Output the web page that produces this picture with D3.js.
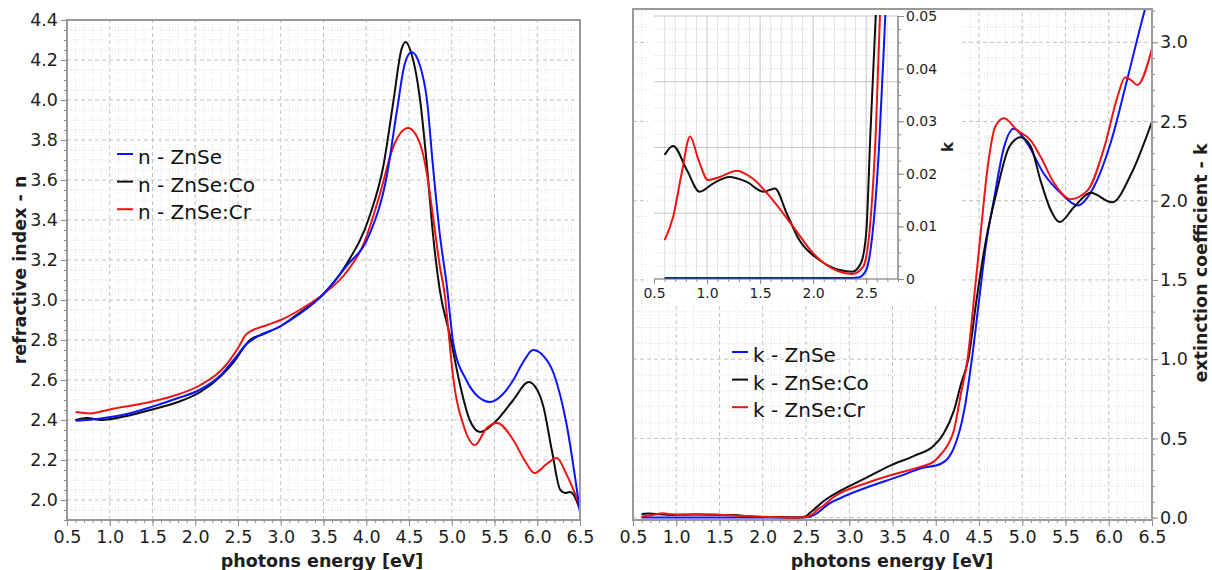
<!DOCTYPE html>
<html>
<head>
<meta charset="utf-8">
<script src="https://cdn.jsdelivr.net/npm/d3@7"></script>
<style>
  body { margin: 0; background: #fff; }
  svg { display: block; font-family: "DejaVu Sans", Verdana, sans-serif; }
</style>
</head>
<body>
<svg id="chart" width="1212" height="570"></svg>
<script>
// refractive index n vs photon energy [eV]
const nZnSe = [[0.6,2.396],[0.9,2.408],[1.2,2.43],[1.5,2.467],[1.8,2.51],[2.05,2.55],[2.3,2.625],[2.45,2.70],[2.6,2.78],[2.7,2.81],[3.0,2.87],[3.22,2.93],[3.5,3.03],[3.77,3.17],[4.04,3.33],[4.24,3.62],[4.36,3.95],[4.45,4.18],[4.53,4.24],[4.63,4.17],[4.71,4.00],[4.78,3.67],[4.86,3.33],[4.94,3.08],[5.02,2.78],[5.17,2.60],[5.3,2.52],[5.45,2.49],[5.6,2.53],[5.72,2.60],[5.85,2.70],[5.95,2.75],[6.05,2.73],[6.19,2.635],[6.34,2.385],[6.5,1.94]];
const nZnSeCo = [[0.6,2.40],[0.73,2.41],[0.9,2.40],[1.2,2.42],[1.47,2.45],[1.8,2.49],[2.06,2.54],[2.3,2.62],[2.45,2.69],[2.64,2.80],[2.8,2.83],[3.0,2.87],[3.2,2.93],[3.5,3.03],[3.77,3.18],[4.04,3.42],[4.2,3.67],[4.32,4.00],[4.41,4.25],[4.46,4.29],[4.53,4.23],[4.63,4.00],[4.71,3.67],[4.78,3.33],[4.86,3.05],[4.98,2.82],[5.10,2.57],[5.21,2.40],[5.33,2.34],[5.43,2.36],[5.53,2.40],[5.72,2.50],[5.90,2.59],[6.0,2.55],[6.07,2.47],[6.17,2.25],[6.27,2.05],[6.33,2.035],[6.38,2.04],[6.42,2.03],[6.5,1.95]];
const nZnSeCr = [[0.6,2.44],[0.77,2.433],[1.0,2.453],[1.47,2.49],[1.74,2.52],[2.06,2.575],[2.37,2.68],[2.5,2.76],[2.6,2.83],[2.84,2.875],[3.0,2.90],[3.22,2.95],[3.5,3.03],[3.77,3.14],[3.97,3.28],[4.16,3.53],[4.32,3.77],[4.49,3.86],[4.63,3.78],[4.71,3.63],[4.78,3.42],[4.86,3.17],[4.92,3.02],[4.96,2.85],[5.02,2.60],[5.14,2.37],[5.27,2.275],[5.41,2.36],[5.53,2.385],[5.72,2.30],[5.85,2.20],[5.97,2.135],[6.11,2.18],[6.23,2.21],[6.34,2.13],[6.5,1.97]];

// extinction coefficient k vs photon energy [eV]
const kZnSe = [[0.6,0.0002],[1.0,0.0002],[1.5,0.0002],[2.0,0.0002],[2.3,0.0002],[2.43,0.0003],[2.5,0.0017],[2.56,0.0087],[2.62,0.0245],[2.68,0.05],[2.75,0.082],[2.9,0.124],[3.2,0.19],[3.6,0.265],[3.82,0.31],[4.06,0.34],[4.15,0.38],[4.21,0.44],[4.33,0.68],[4.42,1.01],[4.5,1.37],[4.58,1.72],[4.67,2.0],[4.79,2.34],[4.9,2.455],[5.06,2.36],[5.25,2.17],[5.45,2.045],[5.64,1.97],[5.83,2.09],[6.03,2.38],[6.22,2.78],[6.41,3.19],[6.5,3.36]];
const kZnSeCo = [[0.6,0.0236],[0.68,0.0253],[0.81,0.0207],[0.93,0.0166],[1.06,0.0182],[1.21,0.0194],[1.37,0.0185],[1.53,0.0166],[1.64,0.0172],[1.75,0.0125],[1.87,0.0074],[2.06,0.0036],[2.25,0.0017],[2.37,0.0014],[2.45,0.003],[2.5,0.0087],[2.54,0.0277],[2.59,0.05],[2.66,0.085],[2.74,0.118],[2.9,0.17],[3.21,0.255],[3.48,0.33],[3.75,0.39],[3.98,0.455],[4.09,0.53],[4.21,0.675],[4.29,0.84],[4.38,1.01],[4.47,1.37],[4.58,1.75],[4.71,2.07],[4.85,2.34],[4.98,2.40],[5.1,2.34],[5.21,2.13],[5.33,1.94],[5.43,1.865],[5.6,1.96],[5.79,2.05],[6.04,1.99],[6.26,2.17],[6.5,2.50]];
const kZnSeCr = [[0.6,0.0074],[0.68,0.0118],[0.76,0.020],[0.84,0.0271],[0.92,0.0226],[1.01,0.0188],[1.12,0.0194],[1.28,0.0206],[1.43,0.0191],[1.62,0.015],[1.81,0.010],[2.0,0.0049],[2.18,0.002],[2.37,0.00095],[2.47,0.0023],[2.53,0.0087],[2.59,0.0277],[2.63,0.05],[2.7,0.075],[2.82,0.13],[3.21,0.22],[3.59,0.285],[3.82,0.32],[3.98,0.355],[4.06,0.40],[4.13,0.45],[4.21,0.55],[4.29,0.78],[4.37,1.01],[4.44,1.37],[4.52,1.80],[4.6,2.21],[4.69,2.47],[4.79,2.52],[4.94,2.445],[5.1,2.38],[5.21,2.28],[5.37,2.11],[5.56,2.01],[5.755,2.065],[5.95,2.34],[6.1,2.655],[6.19,2.78],[6.26,2.76],[6.33,2.73],[6.5,2.96]];

const seriesColors = ['#0a14ff', '#0d0d0d', '#f01414'];
const legendN = ['n - ZnSe', 'n - ZnSe:Co', 'n - ZnSe:Cr'];
const legendK = ['k - ZnSe', 'k - ZnSe:Co', 'k - ZnSe:Cr'];
const energyTicks = [0.5, 1.0, 1.5, 2.0, 2.5, 3.0, 3.5, 4.0, 4.5, 5.0, 5.5, 6.0, 6.5];
const nTicks = [2.0, 2.2, 2.4, 2.6, 2.8, 3.0, 3.2, 3.4, 3.6, 3.8, 4.0, 4.2, 4.4];
const kTicks = [0.0, 0.5, 1.0, 1.5, 2.0, 2.5, 3.0];
const insetEnergyTicks = [0.5, 1.0, 1.5, 2.0, 2.5];
const insetKTicks = [0, 0.01, 0.02, 0.03, 0.04, 0.05];

const FONT = '"DejaVu Sans", Verdana, sans-serif';
const svg = d3.select('#chart');

function stepValues(lo, hi, step) {
  return d3.range(Math.round((hi - lo) / step) + 1).map(i => +(lo + i * step).toFixed(6));
}
function onStep(v, step) {
  return Math.abs(v / step - Math.round(v / step)) < 1e-6;
}

function addGrid(g, x, y, xVals, xMajor, yVals, yMajor, style) {
  const [x0, x1] = x.range();
  const [y0, y1] = y.range();
  g.selectAll(null).data(xVals).enter().append('line')
    .attr('x1', d => x(d)).attr('x2', d => x(d))
    .attr('y1', y0).attr('y2', y1)
    .each(function (d) { style(d3.select(this), onStep(d, xMajor), 'v'); });
  g.selectAll(null).data(yVals).enter().append('line')
    .attr('y1', d => y(d)).attr('y2', d => y(d))
    .attr('x1', x0).attr('x2', x1)
    .each(function (d) { style(d3.select(this), onStep(d, yMajor), 'h'); });
}

function mainGridStyle(sel, major) {
  if (major) sel.attr('stroke', '#c2c2c2').attr('stroke-dasharray', '4,3');
  else sel.attr('stroke', '#dedede').attr('stroke-dasharray', '1,2');
  sel.attr('stroke-width', 1);
}
function insetGridStyle(sel, major, dir) {
  if (major) sel.attr('stroke', '#c6c6c6');
  else if (dir === 'v') sel.attr('stroke', '#e2e2e2');
  else sel.attr('stroke', '#d4d4d4').attr('stroke-dasharray', '1,2');
  sel.attr('stroke-width', 1);
}

function styleAxis(sel, size) {
  sel.attr('font-family', FONT).attr('font-size', size);
  sel.select('.domain').remove();
  sel.selectAll('.tick line').attr('stroke', '#8c8c8c');
  sel.selectAll('.tick text').attr('fill', '#1e1e1e');
}

function drawSeries(g, x, y, data, color) {
  g.append('path').datum(data)
    .attr('fill', 'none')
    .attr('stroke', color)
    .attr('stroke-width', 2)
    .attr('d', d3.line().x(d => x(d[0])).y(d => y(d[1])).curve(d3.curveMonotoneX));
}

function addClip(id, x, y, w, h) {
  svg.append('clipPath').attr('id', id).append('rect')
    .attr('x', x).attr('y', y).attr('width', w).attr('height', h);
}

function addLegend(labels, lx, ly, gap) {
  const g = svg.append('g').attr('font-family', FONT).attr('font-size', 20);
  labels.forEach((label, i) => {
    const cy = ly + i * gap;
    g.append('line').attr('x1', lx).attr('x2', lx + 16).attr('y1', cy).attr('y2', cy)
      .attr('stroke', seriesColors[i]).attr('stroke-width', 2);
    g.append('text').attr('x', lx + 21).attr('y', cy + 10).attr('fill', '#111').text(label);
  });
}

const fmt1 = d3.format('.1f');

// ---------- left panel: refractive index ----------
const xN = d3.scaleLinear().domain([0.5, 6.5]).range([67, 580]);
const yN = d3.scaleLinear().domain([1.9, 4.4]).range([520, 20]);

addGrid(svg.append('g'), xN, yN,
  stepValues(0.6, 6.4, 0.1), 0.5, stepValues(1.95, 4.35, 0.05), 0.2, mainGridStyle);

addClip('clipN', 67, 20, 513, 500);
const gN = svg.append('g').attr('clip-path', 'url(#clipN)');
drawSeries(gN, xN, yN, nZnSeCo, seriesColors[1]);
drawSeries(gN, xN, yN, nZnSeCr, seriesColors[2]);
drawSeries(gN, xN, yN, nZnSe, seriesColors[0]);

svg.append('rect').attr('x', 67).attr('y', 20).attr('width', 513).attr('height', 500)
  .attr('fill', 'none').attr('stroke', '#9a9a9a').attr('stroke-width', 2);

svg.append('g').attr('transform', 'translate(67,0)')
  .call(d3.axisLeft(yN).tickValues(stepValues(1.9, 4.4, 0.05)).tickSize(3).tickFormat(''))
  .call(styleAxis, 17.5);
svg.append('g').attr('transform', 'translate(67,0)')
  .call(d3.axisLeft(yN).tickValues(nTicks).tickSize(6).tickPadding(3).tickFormat(fmt1))
  .call(styleAxis, 17.5);
svg.append('g').attr('transform', 'translate(0,520)')
  .call(d3.axisBottom(xN).tickValues(stepValues(0.5, 6.5, 0.1)).tickSize(3).tickFormat(''))
  .call(styleAxis, 17.5);
svg.append('g').attr('transform', 'translate(0,520)')
  .call(d3.axisBottom(xN).tickValues(energyTicks).tickSize(6).tickPadding(5).tickFormat(fmt1))
  .call(styleAxis, 17.5);

svg.append('text').attr('transform', 'translate(26,270) rotate(-90)')
  .attr('text-anchor', 'middle').attr('font-family', FONT).attr('font-size', 17.5)
  .attr('font-weight', 'bold').attr('fill', '#1e1e1e').text('refractive index - n');
svg.append('text').attr('x', 322).attr('y', 567)
  .attr('text-anchor', 'middle').attr('font-family', FONT).attr('font-size', 17.5)
  .attr('font-weight', 'bold').attr('fill', '#1e1e1e').text('photons energy [eV]');

addLegend(legendN, 117, 154, 27.6);

// ---------- right panel: extinction coefficient ----------
const xK = d3.scaleLinear().domain([0.5, 6.5]).range([633, 1152]);
const yK = d3.scaleLinear().domain([-0.015, 3.21]).range([520, 9]);

addGrid(svg.append('g'), xK, yK,
  stepValues(0.6, 6.4, 0.1), 0.5, stepValues(0, 3.2, 0.1), 0.5, mainGridStyle);

addClip('clipK', 633, 9, 519, 511);
const gK = svg.append('g').attr('clip-path', 'url(#clipK)');
drawSeries(gK, xK, yK, kZnSe, seriesColors[0]);
drawSeries(gK, xK, yK, kZnSeCo, seriesColors[1]);
drawSeries(gK, xK, yK, kZnSeCr, seriesColors[2]);

svg.append('g').attr('transform', 'translate(1152,0)')
  .call(d3.axisRight(yK).tickValues(stepValues(0, 3.2, 0.1)).tickSize(3).tickFormat(''))
  .call(styleAxis, 17.5);
svg.append('g').attr('transform', 'translate(1152,0)')
  .call(d3.axisRight(yK).tickValues(kTicks).tickSize(6).tickPadding(2).tickFormat(fmt1))
  .call(styleAxis, 17.5);
svg.append('g').attr('transform', 'translate(0,520)')
  .call(d3.axisBottom(xK).tickValues(stepValues(0.5, 6.5, 0.1)).tickSize(3).tickFormat(''))
  .call(styleAxis, 17.5);
svg.append('g').attr('transform', 'translate(0,520)')
  .call(d3.axisBottom(xK).tickValues(energyTicks).tickSize(6).tickPadding(5).tickFormat(fmt1))
  .call(styleAxis, 17.5);

svg.append('text').attr('transform', 'translate(1207,263) rotate(-90)')
  .attr('text-anchor', 'middle').attr('font-family', FONT).attr('font-size', 17.5)
  .attr('font-weight', 'bold').attr('fill', '#1e1e1e').text('extinction coefficient - k');
svg.append('text').attr('x', 892).attr('y', 567)
  .attr('text-anchor', 'middle').attr('font-family', FONT).attr('font-size', 17.5)
  .attr('font-weight', 'bold').attr('fill', '#1e1e1e').text('photons energy [eV]');

addLegend(legendK, 732, 352, 27.6);

// ---------- inset: low-energy k ----------
svg.append('rect').attr('x', 648).attr('y', 10).attr('width', 314).attr('height', 293).attr('fill', '#fff');

const xI = d3.scaleLinear().domain([0.5, 2.8]).range([654, 898]);
const yI = d3.scaleLinear().domain([0, 0.05]).range([279, 16]);

addGrid(svg.append('g'), xI, yI,
  stepValues(0.6, 2.7, 0.1), 0.5, stepValues(0.0025, 0.05, 0.0025), 0.0125, insetGridStyle);

addClip('clipI', 654, 15, 244, 265);
const gI = svg.append('g').attr('clip-path', 'url(#clipI)');
drawSeries(gI, xI, yI, kZnSe, seriesColors[0]);
drawSeries(gI, xI, yI, kZnSeCo, seriesColors[1]);
drawSeries(gI, xI, yI, kZnSeCr, seriesColors[2]);

const insetAxisColor = '#666';
svg.append('line').attr('x1', 654).attr('x2', 898).attr('y1', 279).attr('y2', 279)
  .attr('stroke', insetAxisColor).attr('stroke-width', 1.2);
svg.append('line').attr('x1', 898).attr('x2', 898).attr('y1', 16).attr('y2', 279)
  .attr('stroke', insetAxisColor).attr('stroke-width', 1.2);

svg.append('g').attr('transform', 'translate(0,279)')
  .call(d3.axisBottom(xI).tickValues(stepValues(0.5, 2.8, 0.1)).tickSize(3).tickFormat(''))
  .call(styleAxis, 14);
svg.append('g').attr('transform', 'translate(0,279)')
  .call(d3.axisBottom(xI).tickValues(insetEnergyTicks).tickSize(5).tickPadding(4).tickFormat(fmt1))
  .call(styleAxis, 14);
svg.append('g').attr('transform', 'translate(898,0)')
  .call(d3.axisRight(yI).tickValues(stepValues(0, 0.05, 0.0025)).tickSize(3).tickFormat(''))
  .call(styleAxis, 14);
svg.append('g').attr('transform', 'translate(898,0)')
  .call(d3.axisRight(yI).tickValues(insetKTicks).tickSize(6).tickPadding(2)
    .tickFormat(d => d === 0 ? '0' : d.toFixed(2)))
  .call(styleAxis, 14);

svg.append('text').attr('transform', 'translate(953,147) rotate(-90)')
  .attr('text-anchor', 'middle').attr('font-family', FONT).attr('font-size', 15)
  .attr('font-weight', 'bold').attr('fill', '#1e1e1e').text('k');

// frame of the right panel drawn last so the inset doesn't hide it
svg.append('rect').attr('x', 633).attr('y', 9).attr('width', 519).attr('height', 511)
  .attr('fill', 'none').attr('stroke', '#9a9a9a').attr('stroke-width', 2);
</script>
</body>
</html>
